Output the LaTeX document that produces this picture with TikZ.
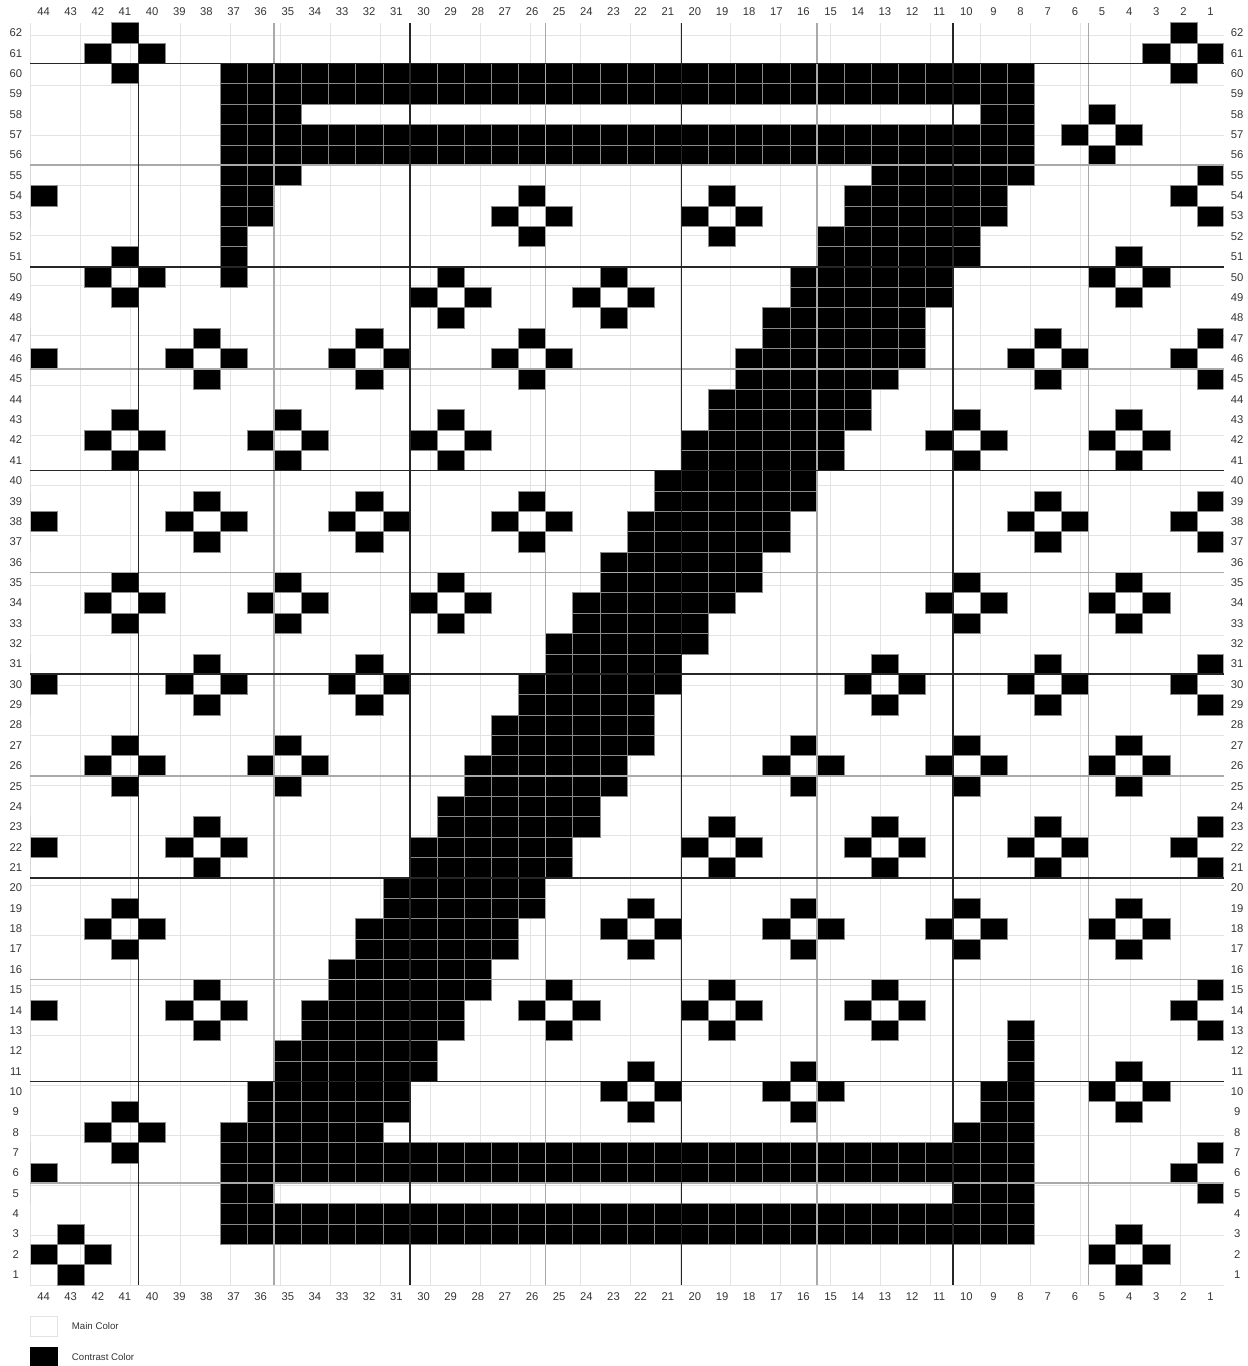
\documentclass[tikz,border=0pt]{standalone}
\usepackage{fontspec}
\setmainfont{Liberation Sans}
\usetikzlibrary{positioning}

\definecolor{gridlight}{HTML}{E3E3E3}
\definecolor{gridmid}{HTML}{A9A9A9}
\definecolor{seamgray}{HTML}{8A8A8A}
\definecolor{labelgray}{HTML}{333333}

\tikzset{
	contrast/.style={fill=black, draw=seamgray, line width=0.35pt},
	numlabel/.style={font=\fontsize{6.4}{7}\selectfont, text=labelgray, inner sep=0pt},
	keybox/.style={minimum width=0.5428cm, minimum height=0.4072cm, inner sep=0pt, line width=0.5pt},
	keytext/.style={font=\fontsize{5.5}{6}\selectfont, text=labelgray, inner sep=0pt},
}

\begin{document}
\begin{tikzpicture}[x=0.5428cm, y=0.4072cm]
	\useasboundingbox (-1.105,-3.978) rectangle (44.847,63.115);
	% cell grid
	\draw[gridlight, line width=0.5pt] (0,0) grid (44,62);
	% the Z: row/first column/last column
	\foreach \r/\a/\b in {60/37/8, 59/37/8, 58/37/35, 58/9/8, 57/37/8, 56/37/8, 55/37/35, 55/13/8,
		54/37/36, 54/14/9, 53/37/36, 53/14/9, 52/37/37, 52/15/10, 51/37/37, 51/15/10,
		50/37/37, 50/16/11, 49/16/11, 48/17/12, 47/17/12, 46/18/12, 45/18/13,
		44/19/14, 43/19/14, 42/20/15, 41/20/15, 40/21/16, 39/21/16, 38/22/17, 37/22/17,
		36/23/18, 35/23/18, 34/24/19, 33/24/20, 32/25/20, 31/25/21, 30/26/21, 29/26/22,
		28/27/22, 27/27/22, 26/28/23, 25/28/23, 24/29/24, 23/29/24, 22/30/25, 21/30/25,
		20/31/26, 19/31/26, 18/32/27, 17/32/27, 16/33/28, 15/33/28, 14/34/29, 13/34/29,
		12/35/30, 11/35/30, 10/36/31, 9/36/31, 8/37/32,
		13/8/8, 12/8/8, 11/8/8, 10/9/8, 9/9/8, 8/10/8,
		7/37/8, 6/37/8, 5/37/36, 5/10/8, 4/37/8, 3/37/8}
		\foreach \c in {\b,...,\a}
			\draw[contrast] (44-\c,\r-1) rectangle (45-\c,\r);
	% small diamonds: column/row of the centre
	\begin{scope}
		\clip (0.03,0) rectangle (43.97,62);
		\foreach \c/\r in {41/61, 2/61, 5/57, 26/53, 19/53, 1/54, 45/54,
			41/50, 4/50, 29/49, 23/49, 38/46, 32/46, 26/46, 7/46, 1/46, 45/46,
			41/42, 35/42, 29/42, 10/42, 4/42, 38/38, 32/38, 26/38, 7/38, 1/38, 45/38,
			41/34, 35/34, 29/34, 10/34, 4/34, 38/30, 32/30, 13/30, 7/30, 1/30, 45/30,
			41/26, 35/26, 16/26, 10/26, 4/26, 38/22, 19/22, 13/22, 7/22, 1/22, 45/22,
			41/18, 22/18, 16/18, 10/18, 4/18, 38/14, 25/14, 19/14, 13/14, 1/14, 45/14,
			22/10, 16/10, 4/10, 41/8, 1/6, 45/6, 43/2, 4/2} {
			\draw[contrast] (44-\c,\r) rectangle (45-\c,\r+1);
			\draw[contrast] (44-\c,\r-2) rectangle (45-\c,\r-1);
			\draw[contrast] (43-\c,\r-1) rectangle (44-\c,\r);
			\draw[contrast] (45-\c,\r-1) rectangle (46-\c,\r);
		}
	\end{scope}
	% every 5 and every 10
	\foreach \k in {9,19,29,39}
		\draw[gridmid, line width=0.9pt] (\k,0) -- (\k,62);
	\foreach \k in {5,15,...,55}
		\draw[gridmid, line width=0.9pt] (0,\k) -- (44,\k);
	\foreach \k in {4,14,24,34}
		\draw[black!85, line width=0.9pt] (\k,0) -- (\k,62);
	\foreach \k in {10,20,...,60}
		\draw[black!85, line width=0.9pt] (0,\k) -- (44,\k);
	% numbers round the chart
	\foreach \c in {1,...,44} {
		\node[numlabel] (top\c) at (44.5-\c,62.53) {\c};
		\node[numlabel] (bot\c) at (44.5-\c,-0.56) {\c};
	}
	\foreach \r in {1,...,62} {
		\node[numlabel] (left\r) at (-0.52,\r-0.5) {\r};
		\node[numlabel] (right\r) at (44.48,\r-0.5) {\r};
	}
	% key
	\node[keybox, draw=gridlight, fill=white] (mainkey) at (0.5,-2.04) {};
	\node[keytext, right=0.28cm of mainkey] (maintext) {Main Color};
	\node[keybox, draw=black, fill=black] (contrastkey) at (0.5,-3.55) {};
	\node[keytext, right=0.28cm of contrastkey] (contrasttext) {Contrast Color};
\end{tikzpicture}
\end{document}
